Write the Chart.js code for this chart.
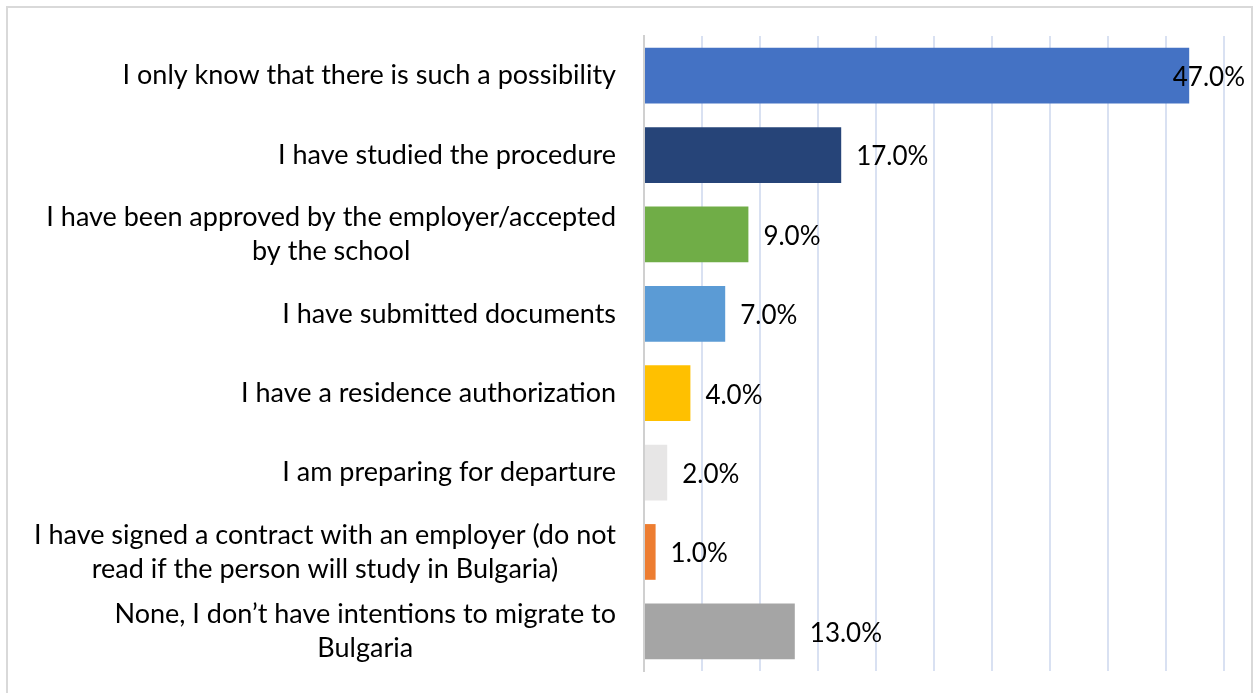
<!DOCTYPE html>
<html>
<head>
<meta charset="utf-8">
<script src="https://cdn.jsdelivr.net/npm/chart.js@4"></script>
<style>
    body { margin: 0; background: #fff; }
    #wrap { position: relative; width: 1253px; height: 693px; }
    #frame {
        position: absolute; left: 6px; top: 6px; width: 1243px; height: 700px;
        border: 2px solid #d9d9d9; pointer-events: none;
    }
</style>
</head>
<body>
<div id="wrap">
    <canvas id="chart" width="1253" height="693"></canvas>
    <div id="frame"></div>
</div>
<script>
// Survey answers and their shares (%)
const categories = [
    'I only know that there is such a possibility',
    'I have studied the procedure',
    ['I have been approved by the employer/accepted', 'by the school'],
    'I have submitted documents',
    'I have a residence authorization',
    'I am preparing for departure',
    ['I have signed a contract with an employer (do not', 'read if the person will study in Bulgaria)'],
    ['None, I don\u2019t have intentions to migrate to', 'Bulgaria']
];
const shares = [47, 17, 9, 7, 4, 2, 1, 13];
const barColors = ['#4472C4', '#264478', '#70AD47', '#5B9BD5', '#FFC000', '#E7E6E6', '#ED7D31', '#A5A5A5'];

const FONT = 'Lato, Calibri, sans-serif';
const LABEL_GAP = 28;
const LINE_H = 34;

// Category names: right-aligned block, wrapped lines centred inside it
const categoryLabels = {
    id: 'categoryLabels',
    afterDraw(chart) {
        const ctx = chart.ctx;
        const yScale = chart.scales.y;
        const right = chart.chartArea.left - LABEL_GAP;
        ctx.save();
        ctx.font = '27px ' + FONT;
        ctx.fillStyle = '#000';
        ctx.textAlign = 'center';
        ctx.textBaseline = 'middle';
        categories.forEach(function(label, i) {
            const lines = Array.isArray(label) ? label : [label];
            const widest = Math.max.apply(null, lines.map(function(l) { return ctx.measureText(l).width; }));
            const cx = right - widest / 2;
            const y0 = yScale.getPixelForTick(i) - (lines.length - 1) * LINE_H / 2;
            lines.forEach(function(line, j) {
                ctx.fillText(line, cx, y0 + j * LINE_H);
            });
        });
        ctx.restore();
    }
};

// Value labels to the right of each bar, pulled back inside the frame when they don't fit
const valueLabels = {
    id: 'valueLabels',
    afterDatasetsDraw(chart) {
        const ctx = chart.ctx;
        const meta = chart.getDatasetMeta(0);
        ctx.save();
        ctx.font = '26px ' + FONT;
        ctx.fillStyle = '#000';
        ctx.textBaseline = 'middle';
        meta.data.forEach(function(bar, i) {
            const text = shares[i].toFixed(1) + '%';
            const w = ctx.measureText(text).width;
            let x = bar.x + 15;
            if (x + w > chart.width - 8) x = chart.width - 8 - w;
            ctx.fillText(text, x, bar.y + 2);
        });
        ctx.restore();
    }
};

const chart = new Chart(document.getElementById('chart').getContext('2d'), {
    type: 'bar',
    data: {
        labels: categories,
        datasets: [{
            data: shares,
            backgroundColor: barColors,
            barPercentage: 0.78,
            categoryPercentage: 0.9
        }]
    },
    options: {
        indexAxis: 'y',
        responsive: false,
        animation: false,
        layout: { padding: { top: 36, bottom: 22, right: 29, left: 0 } },
        plugins: { legend: { display: false }, tooltip: { enabled: false } },
        scales: {
            x: {
                min: 0,
                max: 50,
                ticks: { display: false, stepSize: 5 },
                grid: { color: '#d9e1f2', lineWidth: 2, drawTicks: false },
                border: { display: false },
                afterFit: function(scale) { scale.height = 0; }
            },
            y: {
                ticks: { display: false },
                grid: { display: false, drawTicks: false },
                border: { display: true, color: '#d0d0d0', width: 2 },
                afterFit: function(scale) {
                    scale.width = 644;
                    scale.paddingTop = 0;
                    scale.paddingBottom = 0;
                }
            }
        }
    },
    plugins: [categoryLabels, valueLabels]
});
</script>
</body>
</html>
